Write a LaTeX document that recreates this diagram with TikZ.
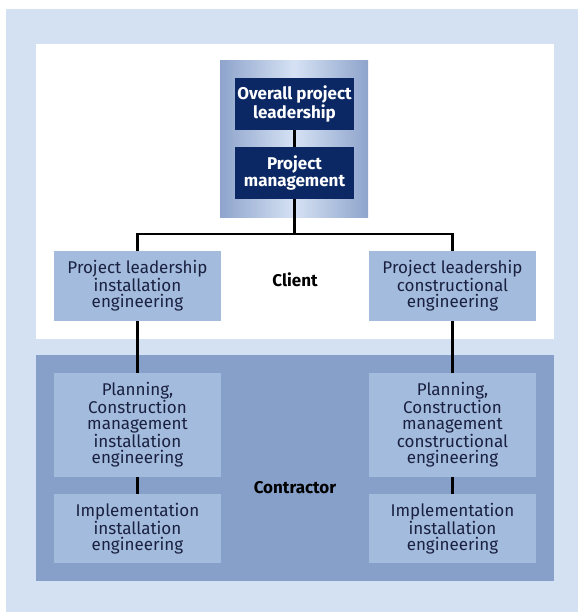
\documentclass[tikz,border=0pt]{standalone}
\usepackage{fontspec}
\setmainfont{Fira Sans}
\definecolor{outerbg}{HTML}{D3E1F3}
\definecolor{panel}{HTML}{87A0C9}
\definecolor{boxfill}{HTML}{A3BBDD}
\definecolor{navy}{HTML}{0B2864}
\definecolor{txt}{HTML}{1A2040}
\definecolor{gradedge}{HTML}{8EA4CC}
\definecolor{gradmid}{HTML}{D6E2F4}
\begin{document}
\begin{tikzpicture}[x=1pt,y=-1pt,
  lightbox/.style={rectangle, fill=boxfill, inner sep=0pt, align=center, text=txt,
    font=\fontsize{17}{16}\selectfont, minimum width=167pt},
  darkbox/.style={rectangle, fill=navy, inner sep=0pt, align=center, text=white,
    font=\fontsize{17}{17}\selectfont\bfseries, minimum width=119pt, minimum height=52pt},
  lbl/.style={font=\fontsize{17}{17}\selectfont\bfseries, text=black},
  conn/.style={line width=2.4pt, draw=black}]
\useasboundingbox (0,0) rectangle (578,612);
\fill[outerbg] (6,9) rectangle (578,612);
\fill[white] (36,44) rectangle (554,339);
\fill[panel] (36,355) rectangle (554,581);
\shade[left color=gradedge, right color=gradedge, middle color=gradmid] (220,61) rectangle (368,217);
% nodes
\node[darkbox] (opl) at (294.5,104) {Overall project\\leadership};
\node[darkbox] (pm) at (294.5,173) {Project\\management};
\node[lightbox, minimum height=70pt] (lc) at (137.5,286) {Project leadership\\installation\\engineering};
\node[lightbox, minimum height=70pt] (rc) at (452.5,286) {Project leadership\\constructional\\engineering};
\node[lightbox, minimum height=104pt] (lp) at (137.5,425) {Planning,\\Construction\\management\\installation\\engineering};
\node[lightbox, minimum height=69pt] (li) at (137.5,528.5) {Implementation\\installation\\engineering};
\node[lightbox, minimum height=104pt] (rp) at (452.5,425) {Planning,\\Construction\\management\\constructional\\engineering};
\node[lightbox, minimum height=69pt] (ri) at (452.5,528.5) {Implementation\\installation\\engineering};
\node[lbl] (client) at (295,280) {Client};
\node[lbl] (contractor) at (295,488) {Contractor};
\coordinate (j) at (294.5,234);
% connectors
\draw[conn] (opl.south) -- (pm.north);
\draw[conn] (pm.south) -- (j);
\draw[conn] (lc.north) |- (j) -| (rc.north);
\draw[conn] (lc.south) -- (lp.north);
\draw[conn] (rc.south) -- (rp.north);
\draw[conn] (lp.south) -- (li.north);
\draw[conn] (rp.south) -- (ri.north);
\end{tikzpicture}
\end{document}
